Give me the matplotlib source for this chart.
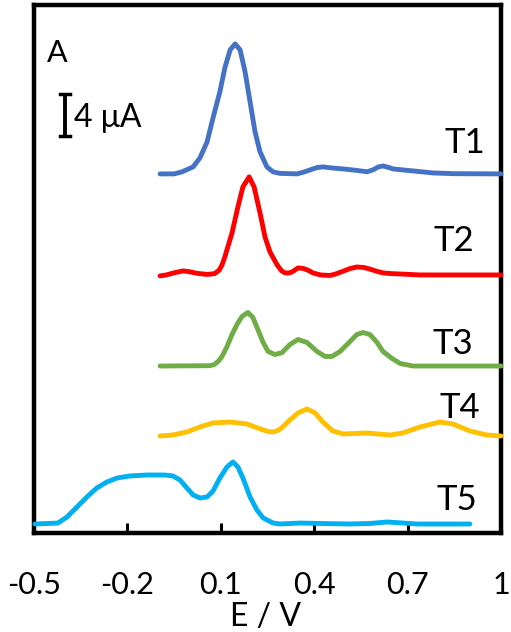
import matplotlib
matplotlib.use("Agg")
import matplotlib.pyplot as plt

plt.rcParams['font.family'] = ['Lato', 'DejaVu Sans']

# Potential (V) and current relative to each trace's baseline (uA)
t1_E = [-0.095, -0.050, -0.025, 0.011, 0.033, 0.056, 0.075, 0.097, 0.113, 0.130, 0.146,
        0.162, 0.178, 0.194, 0.210, 0.226, 0.248, 0.268, 0.290, 0.345, 0.370, 0.387, 0.410,
        0.428, 0.460, 0.493, 0.530, 0.570, 0.589, 0.605, 0.621, 0.640, 0.653, 0.717, 0.782,
        0.850, 1.0]
t1_I = [0, 0, 0.19, 0.66, 1.51, 3.02, 5.28, 7.74, 10.0, 11.70, 12.26,
        11.70, 9.62, 6.79, 3.96, 2.08, 0.66, 0.19, 0.05, 0, 0.20, 0.38, 0.60,
        0.66, 0.55, 0.47, 0.35, 0.20, 0.38, 0.65, 0.75, 0.60, 0.47, 0.28, 0.09,
        0.02, 0]

t2_E = [-0.095, -0.075, -0.050, -0.021, 0.000, 0.024, 0.056, 0.080, 0.095, 0.104, 0.113,
        0.136, 0.155, 0.171, 0.191, 0.207, 0.226, 0.242, 0.258, 0.281, 0.295, 0.306, 0.318,
        0.329, 0.348, 0.364, 0.380, 0.396, 0.420, 0.451, 0.470, 0.493, 0.515, 0.537, 0.560,
        0.579, 0.600, 0.621, 0.650, 0.676, 0.740, 1.0]
t2_I = [-0.09, 0.0, 0.20, 0.38, 0.30, 0.15, 0.05, 0.12, 0.45, 0.95, 1.70,
        3.96, 6.42, 8.30, 9.25, 8.30, 5.85, 3.58, 2.17, 0.94, 0.40, 0.19, 0.18,
        0.28, 0.66, 0.62, 0.45, 0.19, 0.0, -0.05, 0.10, 0.35, 0.60, 0.75, 0.70,
        0.55, 0.35, 0.19, 0.12, 0.09, 0, 0]

t3_E = [-0.095, 0.065, 0.080, 0.092, 0.104, 0.120, 0.136, 0.152, 0.168, 0.187, 0.203,
        0.219, 0.236, 0.252, 0.274, 0.297, 0.322, 0.348, 0.377, 0.409, 0.435, 0.457, 0.483,
        0.515, 0.537, 0.557, 0.579, 0.602, 0.621, 0.650, 0.676, 0.717, 1.0]
t3_I = [0, 0.03, 0.15, 0.45, 0.90, 1.84, 2.97, 3.92, 4.67, 5.05, 4.58,
        3.44, 2.22, 1.37, 1.08, 1.27, 2.03, 2.50, 2.22, 1.37, 0.90, 0.90, 1.37,
        2.31, 2.97, 3.16, 2.97, 2.22, 1.37, 0.71, 0.24, 0, 0]

t4_E = [-0.095, -0.054, -0.009, 0.033, 0.075, 0.130, 0.184, 0.236, 0.255, 0.268, 0.282,
        0.297, 0.322, 0.348, 0.377, 0.403, 0.428, 0.460, 0.493, 0.570, 0.644, 0.685, 0.740,
        0.804, 0.846, 0.900, 0.955, 1.0]
t4_I = [0, 0.09, 0.38, 0.85, 1.23, 1.32, 1.13, 0.57, 0.40, 0.38, 0.50,
        0.80, 1.51, 2.17, 2.55, 2.17, 1.32, 0.47, 0.19, 0.28, 0.09, 0.28, 0.85,
        1.32, 1.13, 0.47, 0.09, 0]

t5_E = [-0.497, -0.423, -0.394, -0.362, -0.330, -0.298, -0.266, -0.233, -0.192, -0.137,
        -0.080, -0.054, -0.031, -0.009, 0.011, 0.033, 0.056, 0.075, 0.097, 0.120, 0.139,
        0.155, 0.171, 0.194, 0.216, 0.236, 0.268, 0.290, 0.354, 0.450, 0.515, 0.580, 0.634,
        0.680, 0.730, 0.900]
t5_I = [0, 0.09, 0.66, 1.60, 2.55, 3.40, 3.96, 4.34, 4.53, 4.62,
        4.62, 4.53, 4.15, 3.40, 2.74, 2.45, 2.55, 3.11, 4.34, 5.38, 5.85,
        5.38, 4.34, 2.55, 1.32, 0.57, 0.09, 0, 0.09, 0.03, 0, 0.05, 0.19,
        0.10, 0, 0]

labels = ['T1', 'T2', 'T3', 'T4', 'T5']
offsets = [33.87, 24.34, 15.75, 9.15, 0.85]
colors = ['#4472C4', '#FF0000', '#70AD47', '#FFC000', '#00B0F0']
xticks = [-0.5, -0.2, 0.1, 0.4, 0.7, 1.0]
xticklabels = ['-0.5', '-0.2', '0.1', '0.4', '0.7', '1']
scale_uA = 4

W, H = 511, 632
fig = plt.figure(figsize=(W / 100, H / 100), dpi=100)
ax = fig.add_axes([34 / W, (H - 533) / H, 467 / W, 528 / H])

series = [(t1_E, t1_I), (t2_E, t2_I), (t3_E, t3_I), (t4_E, t4_I), (t5_E, t5_I)]
for (E, I), off, c in zip(series, offsets, colors):
    ax.plot(E, [v + off for v in I], color=c, lw=3.5, solid_joinstyle='round',
            solid_capstyle='round', clip_on=False, zorder=3)

ax.set_xlim(-0.5, 1.0)
ax.set_ylim(0, 49.8)
ax.set_yticks([])
ax.set_xticks(xticks)
ax.set_xticklabels(xticklabels)
ax.tick_params(axis='x', direction='in', length=7, width=2.2, pad=27, labelsize=22)
for s in ax.spines.values():
    s.set_linewidth(3.2)

fig.text(266 / W, 1 - 626 / H, 'E / V', fontsize=23, va='baseline', ha='center')

# scale bar
xb = -0.400
yb0 = 37.45
ax.plot([xb, xb], [yb0, yb0 + scale_uA], color='black', lw=2.8, solid_capstyle='butt')
ax.plot([xb - 0.017, xb + 0.017], [yb0, yb0], color='black', lw=2.5)
ax.plot([xb - 0.017, xb + 0.017], [yb0 + scale_uA, yb0 + scale_uA], color='black', lw=2.5)
fig.text(74 / W, 1 - 127 / H, '4 μA', fontsize=23, va='baseline', ha='left')
fig.text(47 / W, 1 - 62 / H, 'A', fontsize=22, va='baseline', ha='left')

label_pos = [(465, 153), (454, 251), (453, 354), (460, 418), (457, 510)]
for lab, (px, py) in zip(labels, label_pos):
    fig.text(px / W, 1 - py / H, lab, fontsize=25, va='baseline', ha='center')

fig.savefig('out.png', dpi=100)
